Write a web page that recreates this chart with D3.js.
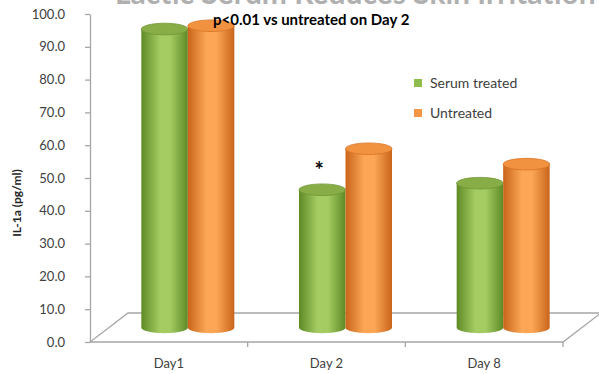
<!DOCTYPE html>
<html>
<head>
<meta charset="utf-8">
<script src="https://cdn.jsdelivr.net/npm/d3@7"></script>
<style>
  html, body { margin: 0; padding: 0; background: #ffffff; }
  svg { display: block; font-family: "Lato", "Open Sans", "Liberation Sans", sans-serif; }
</style>
</head>
<body>
<svg id="chart" width="599" height="374"></svg>
<script>
// IL-1a levels per day, serum-treated vs untreated skin
const categories = ["Day1", "Day 2", "Day 8"];
const seriesNames = ["Serum treated", "Untreated"];
const serumTreated = [91.0, 42.0, 44.0];
const untreated = [92.0, 54.5, 49.8];
const yTicks = [0, 10, 20, 30, 40, 50, 60, 70, 80, 90, 100];
const titleText = "Lactic Serum Reduces Skin Irritation";
const noteText = "p<0.01 vs untreated on Day 2";
const yLabel = "IL-1a (pg/ml)";

const seriesValues = [serumTreated, untreated];
const palette = {
  "Serum treated": { dark: "#5e8a26", light: "#a4cc62", top: "#88ad47", rim: "#6f9634", key: "#8fbc4c" },
  "Untreated":     { dark: "#c9651a", light: "#fca656", top: "#f0923f", rim: "#d87424", key: "#f79646" }
};

const svg = d3.select("#chart");
const defs = svg.append("defs");

// plot geometry
const plotLeft = 90, plotRight = 563, plotBottom = 342, plotTop = 14;
const depthX = 38, depthY = 29;        // floor depth offset
const capRy = 5.8;                     // ellipse radius for cylinder caps

const y = d3.scaleLinear().domain([0, 100]).range([plotBottom, plotTop]);
const x = d3.scaleBand().domain(categories).range([plotLeft, plotRight]);
const pairWidth = 93;
const xs = d3.scaleBand().domain(seriesNames)
  .range([x.bandwidth() / 2 - pairWidth / 2, x.bandwidth() / 2 + pairWidth / 2]);

// heading, running off the top edge
svg.append("text")
  .attr("x", 115).attr("y", 4)
  .attr("font-size", 30).attr("font-weight", "bold")
  .attr("fill", "#b0b0b0")
  .text(titleText);

// floor
const floorPts = [
  [plotLeft, plotBottom], [plotRight, plotBottom],
  [plotRight + depthX, plotBottom - depthY], [plotLeft + depthX, plotBottom - depthY]
];
svg.append("path")
  .attr("d", "M" + floorPts.map(p => p.join(",")).join("L") + "Z")
  .attr("fill", "#ffffff")
  .attr("stroke", "#a6a6a6")
  .attr("stroke-width", 1.3);

// value axis
const yAxis = d3.axisLeft(y)
  .tickValues(yTicks)
  .tickFormat(d3.format(".1f"))
  .tickSize(5)
  .tickSizeOuter(0)
  .tickPadding(20);
const gy = svg.append("g").attr("transform", `translate(${plotLeft},0)`).call(yAxis);
gy.select(".domain").attr("stroke", "#a6a6a6").attr("stroke-width", 1.3);
gy.selectAll(".tick line").attr("stroke", "#a6a6a6").attr("stroke-width", 1.3);
gy.selectAll(".tick text")
  .attr("font-size", 13)
  .attr("fill", "#404040")
  .attr("font-family", "Lato, 'Open Sans', sans-serif");

// category axis along the front edge of the floor
const gx = svg.append("g").attr("transform", `translate(0,${plotBottom})`);
const boundaries = categories.map(c => x(c) + x.bandwidth());
gx.selectAll("line.sep").data(boundaries).join("line")
  .attr("class", "sep")
  .attr("x1", d => d).attr("x2", d => d)
  .attr("y1", 0).attr("y2", 5)
  .attr("stroke", "#a6a6a6").attr("stroke-width", 1.3);
gx.selectAll("text").data(categories).join("text")
  .attr("x", d => x(d) + x.bandwidth() / 2)
  .attr("y", 26)
  .attr("text-anchor", "middle")
  .attr("font-size", 13)
  .attr("fill", "#404040")
  .text(d => d);

// y axis title
svg.append("text")
  .attr("transform", "translate(21,203) rotate(-90)")
  .attr("text-anchor", "middle")
  .attr("font-size", 12)
  .attr("font-weight", "bold")
  .attr("fill", "#262626")
  .text(yLabel);

// gradients for cylinder bodies
seriesNames.forEach((s, i) => {
  const g = defs.append("linearGradient")
    .attr("id", "grad" + i)
    .attr("x1", "0%").attr("x2", "100%").attr("y1", "0%").attr("y2", "0%");
  g.append("stop").attr("offset", "0%").attr("stop-color", palette[s].dark);
  g.append("stop").attr("offset", "40%").attr("stop-color", palette[s].light);
  g.append("stop").attr("offset", "62%").attr("stop-color", palette[s].light);
  g.append("stop").attr("offset", "100%").attr("stop-color", palette[s].dark);
});

// cylinders
const baseY = plotBottom - depthY / 2;
const bars = [];
categories.forEach((c, ci) => {
  seriesNames.forEach((s, si) => {
    bars.push({ cat: c, series: s, si: si, value: seriesValues[si][ci] });
  });
});

const gBars = svg.append("g");
bars.forEach(b => {
  const x0 = x(b.cat) + xs(b.series) + depthX / 2;
  const w = xs.bandwidth();
  const rx = w / 2;
  const h = y(0) - y(b.value);
  const yt = baseY - h;
  const g = gBars.append("g");
  g.append("path")
    .attr("d", `M${x0},${yt} L${x0},${baseY} A${rx},${capRy} 0 0 0 ${x0 + w},${baseY} L${x0 + w},${yt} Z`)
    .attr("fill", `url(#grad${b.si})`);
  g.append("ellipse")
    .attr("cx", x0 + rx).attr("cy", yt)
    .attr("rx", rx).attr("ry", capRy)
    .attr("fill", palette[b.series].top)
    .attr("stroke", palette[b.series].rim)
    .attr("stroke-width", 0.8);
});

// significance marker on Day 2 serum bar
const d2x = x("Day 2") + xs("Serum treated") + xs.bandwidth() / 2 + depthX / 2;
svg.append("text")
  .attr("x", d2x - 3)
  .attr("y", baseY - (y(0) - y(serumTreated[1])) - 12)
  .attr("text-anchor", "middle")
  .attr("font-size", 22)
  .attr("font-weight", "bold")
  .attr("fill", "#000000")
  .text("*");

// annotation
svg.append("text")
  .attr("x", 213).attr("y", 25)
  .attr("font-size", 15)
  .attr("font-weight", "bold")
  .attr("fill", "#000000")
  .text(noteText);

// legend
const legend = svg.append("g").attr("transform", "translate(414,79)");
seriesNames.forEach((s, i) => {
  const row = legend.append("g").attr("transform", `translate(0,${i * 30})`);
  row.append("rect").attr("width", 8).attr("height", 8).attr("fill", palette[s].key);
  row.append("text")
    .attr("x", 16).attr("y", 8.5)
    .attr("font-size", 14)
    .attr("fill", "#404040")
    .text(s);
});
</script>
</body>
</html>
